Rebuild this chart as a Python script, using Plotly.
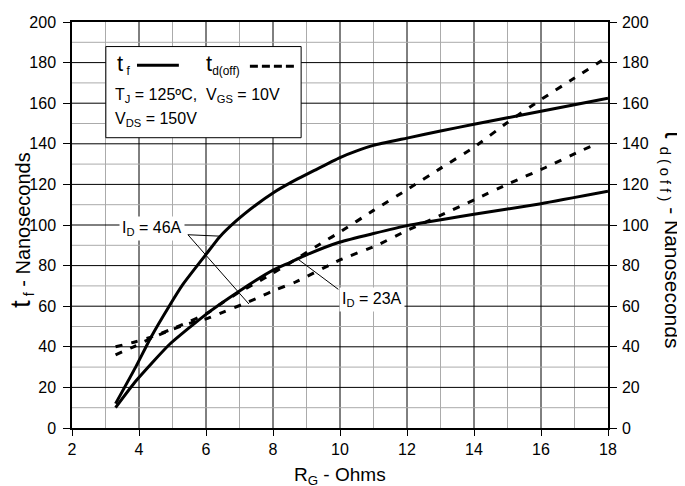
import plotly.graph_objects as go

# ---- data ----
rg_tf_46 = [3.3, 3.9, 4.35, 4.9, 5.3, 6.0, 6.4, 6.9, 7.5, 8.0, 8.5, 9.25, 10.0, 10.5, 11.0, 12.0, 13.0, 14.0, 15.0, 16.0, 17.0, 18.0]
tf_46 = [12, 30, 44.5, 60, 70.5, 85.5, 94, 102, 110, 115.8, 120.6, 127, 133.2, 136.5, 139.2, 142.8, 146.3, 149.6, 152.8, 156, 159.2, 162.5]

rg_tf_23 = [3.3, 3.9, 4.9, 6.0, 7.0, 8.0, 8.5, 9.0, 10.0, 11.0, 12.0, 14.0, 16.0, 18.0]
tf_23 = [10, 23, 41, 56, 67.5, 77.8, 81.5, 85.3, 91.6, 95.8, 99.7, 105.3, 110.5, 116.6]

rg_td_46 = [3.3, 3.9, 4.4, 4.9, 5.4, 6.0, 6.5, 7.0, 7.5, 8.0, 8.5, 9.5, 10.0, 11.0, 12.0, 13.0, 14.0, 15.0, 16.0, 17.0, 18.0]
td_46 = [40, 42.5, 45, 48.2, 51.7, 56.2, 61.8, 67, 71.5, 76.3, 81.2, 91.6, 96.5, 107.2, 117.4, 127.9, 138.3, 150.5, 161.8, 172.4, 183]

rg_td_23 = [3.3, 3.9, 4.4, 4.9, 5.5, 6.07, 6.57, 7.06, 7.61, 8.11, 8.66, 10.0, 11.1, 12.0, 13.08, 14.03, 15.07, 16.12, 17.11, 17.7]
td_23 = [36, 40.5, 44.5, 48, 51.5, 54.1, 57.5, 60.7, 64.6, 68.3, 71.8, 82.8, 90, 97.3, 105.3, 112.6, 120.6, 128.2, 135.9, 140.4]

x_range = [2, 18]
y_range = [0, 200]
x_major_step, x_minor_step = 2, 1
y_major_step, y_minor_step = 20, 10

FONT = "Liberation Sans, Arial, sans-serif"
BLACK = "#000000"
MINOR = "#ababab"

fig = go.Figure()

solid = dict(color=BLACK, width=3, shape="spline", smoothing=0.5)
dashed = dict(color=BLACK, width=3, dash="7px,9px", shape="spline", smoothing=0.5)

fig.add_trace(go.Scatter(x=rg_tf_46, y=tf_46, mode="lines", line=solid, showlegend=False))
fig.add_trace(go.Scatter(x=rg_tf_23, y=tf_23, mode="lines", line=solid, showlegend=False))
fig.add_trace(go.Scatter(x=rg_td_46, y=td_46, mode="lines", line=dashed, showlegend=False, yaxis="y2"))
fig.add_trace(go.Scatter(x=rg_td_23, y=td_23, mode="lines", line=dashed, showlegend=False, yaxis="y2"))

tickfont = dict(family=FONT, size=16, color=BLACK)

# page has an 8px body margin: plot area lands at x 72..608, y 14..428
fig.update_layout(
    width=677, height=478,
    margin=dict(l=64, r=77, t=6, b=58),
    paper_bgcolor="white", plot_bgcolor="white",
    font=dict(family=FONT, color=BLACK),
    xaxis=dict(
        range=x_range, tickmode="linear", tick0=x_range[0], dtick=x_major_step,
        ticks="outside", ticklen=6, tickcolor=BLACK,
        showline=True, linecolor=BLACK, linewidth=1.5, mirror=True,
        showgrid=False, zeroline=False,
        tickfont=tickfont, ticklabeloverflow="allow",
    ),
    yaxis=dict(
        range=y_range, tickmode="linear", tick0=y_range[0], dtick=y_major_step,
        ticks="outside", ticklen=7, tickcolor=BLACK, ticklabelstandoff=4,
        showline=True, linecolor=BLACK, linewidth=1.5, mirror=True,
        showgrid=False, zeroline=False,
        tickfont=tickfont, ticklabeloverflow="allow",
    ),
    yaxis2=dict(
        range=y_range, tickmode="linear", tick0=y_range[0], dtick=y_major_step,
        ticks="outside", ticklen=7, tickcolor=BLACK, ticklabelstandoff=2,
        overlaying="y", side="right", showgrid=False, zeroline=False,
        showline=True, linecolor=BLACK, linewidth=1.5,
        tickfont=tickfont, ticklabeloverflow="allow",
    ),
)

def px2x(px):
    return (px - 72) / 536.0

def py2y(py):
    return (428 - py) / 414.0

ann = []
# axis titles
ann.append(dict(text="R<sub>G</sub> - Ohms", xref="paper", yref="paper",
                x=px2x(340), y=py2y(463), yanchor="top", showarrow=False,
                font=dict(family=FONT, size=19, color=BLACK)))
ann.append(dict(text="<span style='font-size:28px'>t</span><sub> f</sub> - Nanoseconds",
                xref="paper", yref="paper", x=px2x(3), y=py2y(226), textangle=-90,
                showarrow=False, font=dict(family=FONT, size=20, color=BLACK)))
ann.append(dict(text="<span style='font-size:28px'>t</span><sub>  d ( o f f )</sub> - Nanoseconds",
                xref="paper", yref="paper", x=px2x(692), y=py2y(236), textangle=90,
                showarrow=False, font=dict(family=FONT, size=21, color=BLACK)))

# legend box content
ann.append(dict(text="<span style='font-size:22px'>t</span><sub> f</sub>", xref="x", yref="y",
                x=3.28, y=179.0, xanchor="left", yanchor="middle", showarrow=False,
                font=dict(family=FONT, size=17, color=BLACK)))
ann.append(dict(text="<span style='font-size:22px'>t</span><sub>d(off)</sub>", xref="x", yref="y",
                x=5.95, y=179.0, xanchor="left", yanchor="middle", showarrow=False,
                font=dict(family=FONT, size=17, color=BLACK)))
ann.append(dict(text="T<sub>J</sub> = 125ºC,  V<sub>GS</sub> = 10V", xref="x", yref="y",
                x=3.22, y=164.0, xanchor="left", yanchor="middle", showarrow=False,
                font=dict(family=FONT, size=16, color=BLACK)))
ann.append(dict(text="V<sub>DS</sub> = 150V", xref="x", yref="y",
                x=3.22, y=151.8, xanchor="left", yanchor="middle", showarrow=False,
                font=dict(family=FONT, size=16, color=BLACK)))

# curve labels
ann.append(dict(text="I<sub>D</sub> = 46A", xref="x", yref="y", x=4.39, y=98.5,
                showarrow=False, bgcolor="white", borderpad=2,
                font=dict(family=FONT, size=16, color=BLACK)))
ann.append(dict(text="I<sub>D</sub> = 23A", xref="x", yref="y", x=10.96, y=63.3,
                showarrow=False, bgcolor="white", borderpad=2,
                font=dict(family=FONT, size=16, color=BLACK)))

fig.update_layout(annotations=ann)

shapes = []
# grid (minor gray, major black), built from the axis ranges
xv = x_range[0] + x_minor_step
while xv < x_range[1]:
    major = (xv - x_range[0]) % x_major_step == 0
    shapes.append(dict(type="line", xref="x", yref="paper", x0=xv, x1=xv, y0=0, y1=1,
                       line=dict(color=BLACK if major else MINOR, width=1), layer="below"))
    xv += x_minor_step
yv = y_range[0] + y_minor_step
while yv < y_range[1]:
    major = (yv - y_range[0]) % y_major_step == 0
    shapes.append(dict(type="line", xref="paper", yref="y", x0=0, x1=1, y0=yv, y1=yv,
                       line=dict(color=BLACK if major else MINOR, width=1), layer="below"))
    yv += y_minor_step

# legend box
shapes.append(dict(type="rect", xref="x", yref="y", x0=3.01, y0=143.0, x1=8.84, y1=187.9,
                   line=dict(color=BLACK, width=1), fillcolor="white", layer="above"))
shapes.append(dict(type="line", xref="x", yref="y", x0=3.94, y0=178.7, x1=5.19, y1=178.7,
                   line=dict(color=BLACK, width=3), layer="above"))
shapes.append(dict(type="line", xref="x", yref="y", x0=7.31, y0=178.2, x1=8.66, y1=178.2,
                   line=dict(color=BLACK, width=3, dash="8px,4px"), layer="above"))
# leader lines
shapes.append(dict(type="line", xref="x", yref="y", x0=5.46, y0=95.2, x1=6.42, y1=94.5,
                   line=dict(color=BLACK, width=1)))
shapes.append(dict(type="line", xref="x", yref="y", x0=5.46, y0=95.2, x1=7.28, y1=61.1,
                   line=dict(color=BLACK, width=1)))
shapes.append(dict(type="line", xref="x", yref="y", x0=9.95, y0=68.3, x1=8.71, y1=83.6,
                   line=dict(color=BLACK, width=1)))
fig.update_layout(shapes=shapes)

fig.write_html("out.html")
